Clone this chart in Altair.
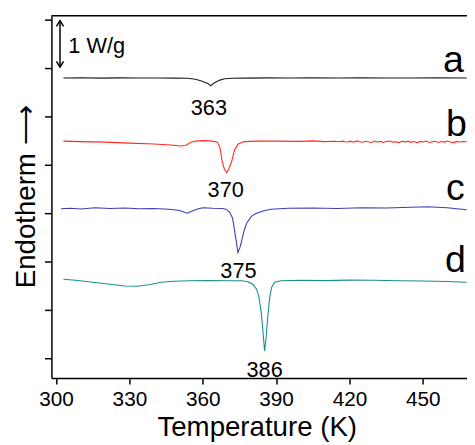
import altair as alt
import pandas as pd

# ---- axis ranges (K, W/g offset units) ----
T_MIN, T_MAX = 298.1, 468.1
Y_MIN, Y_MAX = -0.408, 7.082

# ---- curve a (black), peak 363 K ----
a_T = [303, 310, 318, 326, 334, 342, 348, 353.8, 357, 359.5, 361, 362.3, 363.2, 364, 365, 367, 369, 372, 378, 386, 395, 405, 415, 425, 435, 445, 455, 468]
a_y = [5.796, 5.800, 5.792, 5.798, 5.794, 5.796, 5.792, 5.790, 5.769, 5.731, 5.700, 5.674, 5.633, 5.665, 5.700, 5.751, 5.780, 5.790, 5.792, 5.798, 5.794, 5.798, 5.794, 5.798, 5.796, 5.796, 5.798, 5.796]

# ---- curve b (red), peak 370 K ----
b_T = [303, 310, 320, 330, 340, 347, 351, 353, 355, 357, 360, 364, 366, 367, 367.9, 368.8, 369.8, 370.7, 371.9, 373, 374.5, 377, 382, 390, 400, 405, 410, 414,
       416, 417.2, 418.1, 419.5, 420.3, 421.8, 423, 423.9, 425.4, 426.6, 427.5, 429.1, 430.2, 431.4, 432.9, 433.8, 435.2, 436.7, 437.5, 439.0, 440.4, 441.3,
       442.8, 444.1, 445.0, 446.6, 447.7, 448.9, 450.3, 451.2, 452.8, 454.0, 455.1, 456.5, 457.6, 458.8, 460.2, 461.3, 462.7, 463.9, 465.0, 466.4, 468]
b_y = [4.490, 4.480, 4.469, 4.449, 4.429, 4.408, 4.388, 4.398, 4.459, 4.490, 4.500, 4.490, 4.469, 4.367, 4.082, 3.918, 3.837, 3.918, 4.082, 4.306, 4.429, 4.480, 4.490, 4.490, 4.484, 4.494, 4.480, 4.488,
       4.476, 4.490, 4.478, 4.471, 4.488, 4.467, 4.494, 4.482, 4.465, 4.486, 4.476, 4.461, 4.490, 4.473, 4.484, 4.463, 4.480, 4.492, 4.469, 4.478, 4.459, 4.486,
       4.474, 4.490, 4.465, 4.480, 4.457, 4.484, 4.471, 4.492, 4.463, 4.476, 4.486, 4.461, 4.480, 4.469, 4.490, 4.473, 4.459, 4.484, 4.471, 4.480, 4.476]

# ---- curve c (blue), peak 375 K ----
c_T = [302, 306, 310, 316, 322, 328, 334, 340, 346, 350, 352, 353.7, 355.5, 357.5, 360, 364, 368, 369.5, 371, 372.2, 373.3, 374.4, 375.2, 376, 377, 378, 380, 382, 385, 388, 395, 405, 415, 425, 435, 445, 452, 460, 468]
c_y = [3.092, 3.102, 3.086, 3.112, 3.096, 3.106, 3.092, 3.098, 3.082, 3.061, 3.031, 3.000, 3.041, 3.082, 3.112, 3.102, 3.098, 3.082, 3.020, 2.898, 2.551, 2.184, 2.286, 2.449, 2.653, 2.796, 2.939, 3.000, 3.051, 3.082, 3.102, 3.106, 3.098, 3.112, 3.106, 3.122, 3.133, 3.112, 3.071]

# ---- curve d (teal), peak 386 K ----
d_T = [303, 308, 315, 322, 328, 333, 338, 343, 348, 355, 362, 370, 376, 378.5, 380.5, 382, 383, 384, 384.8, 385.3, 385.9, 386.6, 387.4, 388.2, 389.5, 392, 400, 410, 420, 430, 440, 450, 460, 468]
d_y = [1.633, 1.612, 1.571, 1.531, 1.494, 1.490, 1.520, 1.571, 1.592, 1.602, 1.606, 1.602, 1.602, 1.582, 1.531, 1.429, 1.265, 0.918, 0.449, 0.153, 0.408, 0.857, 1.265, 1.469, 1.571, 1.602, 1.612, 1.606, 1.616, 1.612, 1.602, 1.596, 1.586, 1.571]

series_names = ["a", "b", "c", "d"]
series_colors = ["#1e1e1e", "#ff2b22", "#3d3db6", "#17908c"]

# ---- peak annotations ----
peak_T = [362.5, 369.4, 374.6, 385.3]
peak_y = [5.17, 3.47, 1.80, -0.24]
peak_text = ["363", "370", "375", "386"]

# ---- curve letters ----
letter_T = [458.3, 459.5, 459.5, 459.1]
letter_y = [5.92, 4.59, 3.27, 1.78]

# ---- scale bar (1 W/g) ----
bar_T = [301.6]
bar_lo = [6.02]
bar_hi = [6.98]
bar_text_T = [305.0]
bar_text_y = [6.31]
bar_text = ["1 W/g"]

FONT = "Liberation Sans"

curves = pd.concat([
    pd.DataFrame({"T": t, "y": v, "s": n})
    for n, t, v in zip(series_names, [a_T, b_T, c_T, d_T], [a_y, b_y, c_y, d_y])
])

xscale = alt.Scale(domain=[T_MIN, T_MAX], nice=False, zero=False)
yscale = alt.Scale(domain=[Y_MIN, Y_MAX], nice=False, zero=False)

x_axis = alt.Axis(
    values=list(range(300, 466, 15)),
    labelExpr="datum.value % 30 === 0 ? datum.label : ''",
    tickSize={"condition": {"test": "datum.value % 30 === 0", "value": 6}, "value": 4},
    labelPadding=5,
    labelFontSize=21,
    grid=False,
    titleX=208, titleY=58, titleBaseline="alphabetic", titleAlign="center",
)
y_axis = alt.Axis(
    values=list(range(0, 8)),
    labels=False,
    tickSize=7,
    grid=False,
    titleX=-17, titleY=183, titleBaseline="alphabetic", titleAlign="center", titleAngle=270,
)

lines = alt.Chart(curves).mark_line(strokeWidth=1.1).encode(
    x=alt.X("T:Q", scale=xscale, axis=x_axis, title="Temperature (K)"),
    y=alt.Y("y:Q", scale=yscale, axis=y_axis, title="Endotherm \u27f6"),
    color=alt.Color("s:N", scale=alt.Scale(domain=series_names, range=series_colors), legend=None),
    detail="s:N",
    order="T:Q",
)

peaks = alt.Chart(pd.DataFrame({"T": peak_T, "y": peak_y, "t": peak_text})).mark_text(
    font=FONT, fontSize=22, color="black", align="center", baseline="middle"
).encode(x="T:Q", y="y:Q", text="t:N")

letters = alt.Chart(pd.DataFrame({"T": letter_T, "y": letter_y, "t": series_names})).mark_text(
    font=FONT, fontSize=38, color="black", align="left", baseline="alphabetic"
).encode(x="T:Q", y="y:Q", text="t:N")

bar = alt.Chart(pd.DataFrame({"T": bar_T, "lo": bar_lo, "hi": bar_hi})).mark_rule(
    color="black", strokeWidth=1.5
).encode(x="T:Q", y="lo:Q", y2="hi:Q")

head_up = alt.Chart(pd.DataFrame({"T": bar_T, "y": bar_hi})).mark_point(
    shape="M -0.8 1.3 L 0 0 L 0.8 1.3", size=81, filled=False, color="black", strokeWidth=1.5, opacity=1
).encode(x="T:Q", y="y:Q")
head_down = alt.Chart(pd.DataFrame({"T": bar_T, "y": bar_lo})).mark_point(
    shape="M -0.8 -1.3 L 0 0 L 0.8 -1.3", size=81, filled=False, color="black", strokeWidth=1.5, opacity=1
).encode(x="T:Q", y="y:Q")

bar_label = alt.Chart(pd.DataFrame({"T": bar_text_T, "y": bar_text_y, "t": bar_text})).mark_text(
    font=FONT, fontSize=22, color="black", align="left", baseline="alphabetic"
).encode(x="T:Q", y="y:Q", text="t:N")

top_line = alt.Chart(pd.DataFrame({"y": [Y_MAX]})).mark_rule(color="black", strokeWidth=1.5).encode(y="y:Q")

chart = alt.layer(lines, peaks, letters, bar, head_up, head_down, bar_label, top_line).properties(
    width=421, height=367,
    autosize=alt.AutoSizeParams(type="none"),
    padding={"left": 44, "top": 5, "right": 0, "bottom": 62},
).configure_view(stroke=None).configure_axis(
    domainColor="black", domainWidth=1.5, tickColor="black", tickWidth=1.5,
    labelFont=FONT, labelFontSize=21, labelColor="black",
    titleFont=FONT, titleFontSize=28, titleColor="black", titleFontWeight="normal",
)

chart.save("out.html", embed_options={"renderer": "svg", "actions": False})
